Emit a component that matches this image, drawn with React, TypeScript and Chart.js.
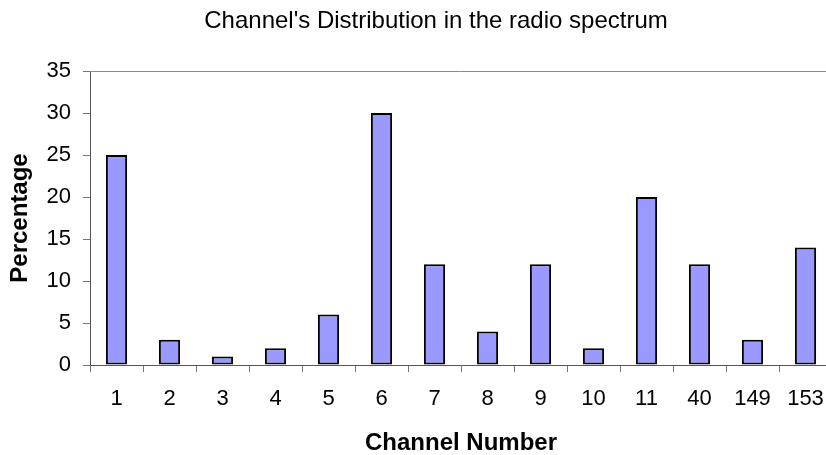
import { useEffect, useRef } from "react";
import { Chart, registerables } from "chart.js";

Chart.register(...registerables);

// Channel numbers along the x axis
const channels = ["1", "2", "3", "4", "5", "6", "7", "8", "9", "10", "11", "40", "149", "153"];
// Share of networks on each channel (%)
const percentages = [25, 3, 1, 2, 6, 30, 12, 4, 12, 2, 20, 12, 3, 14];
// Value axis range
const yMin = 0;
const yMax = 35;
const yStep = 5;

const FONT = "'Liberation Sans', Arial, Helvetica, sans-serif";
const CANVAS_W = 872;
const CANVAS_H = 460;

// Thin gray frame along the top and right of the plot area
const plotFrame = {
  id: "plotFrame",
  afterDraw(chart: any) {
    const { ctx, chartArea } = chart;
    const { left, right, top } = chartArea;
    ctx.save();
    ctx.strokeStyle = "#8c8c8c";
    ctx.lineWidth = 1;
    ctx.beginPath();
    ctx.moveTo(left, top + 0.5);
    ctx.lineTo(right - 0.5, top + 0.5);
    ctx.lineTo(right - 0.5, chartArea.bottom);
    ctx.stroke();
    ctx.restore();
  },
};

export default function App() {
  const canvasRef = useRef<HTMLCanvasElement | null>(null);

  useEffect(() => {
    const canvas = canvasRef.current;
    if (!canvas) return;
    Chart.defaults.font.family = FONT;
    Chart.defaults.color = "#000";

    const chart = new Chart(canvas, {
      type: "bar",
      data: {
        labels: channels,
        datasets: [
          {
            label: "Percentage",
            data: percentages,
            backgroundColor: "#9999ff",
            borderColor: "#000",
            borderWidth: 2,
            borderSkipped: false,
            barPercentage: 0.4,
            categoryPercentage: 1,
          },
        ],
      },
      options: {
        responsive: false,
        animation: false,
        devicePixelRatio: 1,
        layout: { padding: 0 },
        plugins: {
          legend: { display: false },
          tooltip: { enabled: false },
          title: {
            display: true,
            text: "Channel's Distribution in the radio spectrum",
            color: "#000",
            font: { size: 24, weight: "normal", family: FONT, lineHeight: 1.2 },
            padding: { top: 7.2, bottom: 35 },
          },
        },
        scales: {
          x: {
            type: "category",
            grid: {
              display: true,
              drawOnChartArea: false,
              drawTicks: true,
              tickLength: 7,
              color: "#777",
              lineWidth: 1,
            },
            border: { display: true, color: "#555", width: 1 },
            ticks: {
              color: "#000",
              font: { size: 22, family: FONT },
              padding: 14,
              maxRotation: 0,
              autoSkip: false,
            },
            title: {
              display: true,
              text: "Channel Number",
              color: "#000",
              font: { size: 24, weight: "bold", family: FONT, lineHeight: 1.2 },
              padding: { top: 0, bottom: 2 },
            },
            afterFit(scale: any) {
              scale.height = CANVAS_H - 365;
            },
          },
          y: {
            type: "linear",
            position: "left",
            min: yMin,
            max: yMax,
            grid: {
              display: true,
              drawOnChartArea: false,
              drawTicks: true,
              tickLength: 7,
              color: "#777",
              lineWidth: 1,
            },
            border: { display: true, color: "#555", width: 1 },
            ticks: {
              stepSize: yStep,
              color: "#000",
              font: { size: 22, family: FONT },
              padding: 12,
            },
            title: {
              display: true,
              text: "Percentage",
              color: "#000",
              font: { size: 24, weight: "bold", family: FONT, lineHeight: 1.2 },
              padding: { top: 6, bottom: 0 },
            },
            afterFit(scale: any) {
              scale.width = 90;
            },
          },
          // empty right-hand gutter so the title centres on the full canvas
          gutter: {
            type: "linear",
            position: "right",
            display: true,
            grid: { display: false },
            border: { display: false },
            ticks: { display: false },
            afterFit(scale: any) {
              scale.width = 40;
            },
          },
        },
      },
      plugins: [plotFrame],
    });

    return () => chart.destroy();
  }, []);

  return (
    <div
      style={{
        position: "fixed",
        left: 0,
        top: 0,
        width: 826,
        height: 455,
        overflow: "hidden",
        background: "#fff",
      }}
    >
      <canvas
        ref={canvasRef}
        width={CANVAS_W}
        height={CANVAS_H}
        style={{ width: CANVAS_W, height: CANVAS_H, display: "block" }}
      />
    </div>
  );
}
